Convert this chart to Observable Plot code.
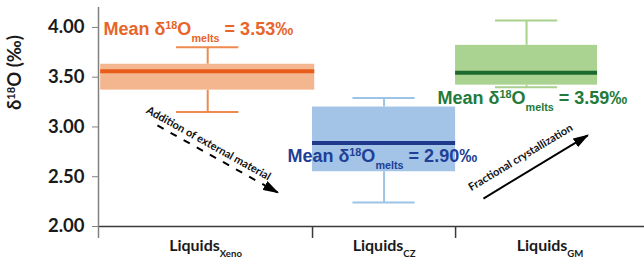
<!DOCTYPE html>
<html>
<head>
<meta charset="utf-8">
<script src="https://cdn.jsdelivr.net/npm/d3@7"></script>
<script src="https://cdn.jsdelivr.net/npm/@observablehq/plot@0.6"></script>
<style>
  html, body { margin: 0; padding: 0; background: white; }
</style>
</head>
<body>
<div id="chart"></div>
<script>
// ---- data ----
const categories = ["Xeno", "CZ", "GM"];
const q1Values = [3.37, 2.55, 3.42];
const q3Values = [3.63, 3.20, 3.82];
const medianValues = [3.56, 2.84, 3.545];
const whiskerLow = [3.15, 2.24, 3.40];
const whiskerHigh = [3.80, 3.29, 4.07];
const meanValues = [3.53, 2.90, 3.59];
const yTicks = [2.00, 2.50, 3.00, 3.50, 4.00];
const annotationTexts = ["Addition of external material", "Fractional crystallization"];

// ---- layout & style (not data) ----
const colEdges = [0, 0.392, 0.654, 1];
const boxSpans = [[0.004, 0.396], [0.392, 0.654], [0.654, 0.914]];
const capHalf = 0.057;
const boxFill = ["#f4b68e", "#a3c3e7", "#aad290"];
const medianColor = ["#e85d1c", "#1f3a8a", "#1c6a30"];
const whiskerColor = ["#ee8a4f", "#9dc3e6", "#a9d18e"];
const textColor = ["#e8652a", "#203f96", "#237a3b"];
const meanTextPos = [ {x: 0.009, y: 3.92}, {x: 0.346, y: 2.643}, {x: 0.621, y: 3.226} ];
const arrowDashed = {x1: 0.108, y1: 3.015, x2: 0.328, y2: 2.342};
const arrowSolid = {x1: 0.705, y1: 2.281, x2: 0.896, y2: 2.915};
const annotationPos = [ {x: 0.2015, y: 2.834, rotate: 29}, {x: 0.773, y: 2.693, rotate: -31} ];

const boxes = categories.map((c, i) => ({
  cat: c,
  x1: boxSpans[i][0], x2: boxSpans[i][1],
  xc: (boxSpans[i][0] + boxSpans[i][1]) / 2,
  q1: q1Values[i], q3: q3Values[i], med: medianValues[i],
  lo: whiskerLow[i], hi: whiskerHigh[i], mean: meanValues[i]
}));

const marks = [];
boxes.forEach((b, i) => {
  marks.push(Plot.ruleX([b], {x: "xc", y1: "lo", y2: "q1", stroke: whiskerColor[i], strokeWidth: 2}));
  marks.push(Plot.ruleX([b], {x: "xc", y1: "q3", y2: "hi", stroke: whiskerColor[i], strokeWidth: 2}));
  marks.push(Plot.ruleY([b], {y: "lo", x1: d => d.xc - capHalf, x2: d => d.xc + capHalf, stroke: whiskerColor[i], strokeWidth: 2}));
  marks.push(Plot.ruleY([b], {y: "hi", x1: d => d.xc - capHalf, x2: d => d.xc + capHalf, stroke: whiskerColor[i], strokeWidth: 2}));
  marks.push(Plot.rect([b], {x1: "x1", x2: "x2", y1: "q1", y2: "q3", fill: boxFill[i]}));
  marks.push(Plot.ruleY([b], {y: "med", x1: "x1", x2: "x2", stroke: medianColor[i], strokeWidth: 4}));
});

// axes lines
marks.push(Plot.ruleY([2], {x1: 0, x2: 1, stroke: "#3a3a3a", strokeWidth: 1.5}));
marks.push(Plot.ruleX([0], {y1: 1.88, y2: 4.2, stroke: "#808080", strokeWidth: 1.5}));
marks.push(Plot.ruleX(colEdges.slice(1, 3), {y1: 2, y2: 1.88, stroke: "#3a3a3a", strokeWidth: 1.5}));
marks.push(Plot.axisY(yTicks, {
  tickFormat: d3.format(".2f"), tickSize: 6, tickPadding: 8,
  fontSize: 18.5, fontWeight: "bold", stroke: "#808080", fill: "#1a1a1a", label: null
}));
// x category labels
marks.push(Plot.text(categories, {
  x: (d, i) => (colEdges[i] + colEdges[i + 1]) / 2,
  y: 2, dy: 24, lineAnchor: "bottom",
  text: d => "Liquids_{" + d + "}",
  fontSize: 16, fontWeight: "bold", fill: "#1a1a1a"
}));
// y label
marks.push(Plot.text(["δ^{18}O (‰)"], {
  frameAnchor: "left", rotate: -90, dx: -83, dy: -7,
  fontSize: 18.5, fontWeight: "bold", fill: "#1a1a1a"
}));

// arrows
marks.push(Plot.link([arrowDashed], {
  x1: "x1", y1: "y1", x2: "x2", y2: "y2",
  stroke: "black", strokeWidth: 2, strokeDasharray: "7,8"
}));
marks.push(Plot.link([arrowSolid], {
  x1: "x1", y1: "y1", x2: "x2", y2: "y2",
  stroke: "black", strokeWidth: 2
}));
annotationTexts.forEach((t, i) => {
  marks.push(Plot.text([t], {
    x: annotationPos[i].x, y: annotationPos[i].y, rotate: annotationPos[i].rotate,
    fontSize: 11, fontWeight: "bold", fill: "#111"
  }));
});

// mean labels
boxes.forEach((b, i) => {
  marks.push(Plot.text([b], {
    x: meanTextPos[i].x, y: meanTextPos[i].y, textAnchor: "start", lineAnchor: "bottom",
    text: d => "Mean δ^{18}O_{melts} = " + d.mean.toFixed(2) + "‰",
    fontFamily: "Liberation Sans, Arial, sans-serif",
    fontSize: 18, fontWeight: "bold", fill: textColor[i]
  }));
});

const chart = Plot.plot({
  width: 644, height: 261,
  marginLeft: 98, marginRight: 0, marginTop: 7, marginBottom: 35,
  x: {domain: [0, 1], axis: null},
  y: {domain: [2, 4.2]},
  style: {fontFamily: "Lato, sans-serif", background: "white", overflow: "visible"},
  marks
});
document.getElementById("chart").append(chart);

// rich text: ^{..} superscript, _{..} subscript
const NS = "http://www.w3.org/2000/svg";
function rich(el) {
  const s = el.textContent;
  if (!/[\^_]\{/.test(s)) return;
  const fs = parseFloat(getComputedStyle(el).fontSize);
  const parts = s.split(/([\^_]\{[^}]*\})/).filter(p => p.length);
  while (el.firstChild) el.removeChild(el.firstChild);
  let cur = 0;
  for (const p of parts) {
    const t = document.createElementNS(NS, "tspan");
    let off = 0, txt = p, small = false;
    if (p.startsWith("^{")) { off = -0.36 * fs; txt = p.slice(2, -1); small = true; }
    else if (p.startsWith("_{")) { off = 0.38 * fs; txt = p.slice(2, -1); small = true; }
    if (small) t.setAttribute("font-size", (0.6 * fs) + "px");
    if (off !== cur) t.setAttribute("dy", off - cur);
    cur = off;
    t.textContent = txt;
    el.appendChild(t);
  }
}
chart.querySelectorAll("text").forEach(rich);

// filled arrowheads
const svg = d3.select(chart.tagName.toLowerCase() === "svg" ? chart : chart.querySelector("svg"));
const defs = svg.append("defs");
defs.append("marker")
  .attr("id", "arrowhead").attr("viewBox", "0 0 10 10")
  .attr("refX", 9).attr("refY", 5)
  .attr("markerWidth", 16).attr("markerHeight", 10)
  .attr("markerUnits", "userSpaceOnUse").attr("orient", "auto")
  .attr("preserveAspectRatio", "none")
  .append("path").attr("d", "M0,0L10,5L0,10Z").attr("fill", "black");
svg.selectAll('g[aria-label="link"] path').attr("marker-end", "url(#arrowhead)");
</script>
</body>
</html>
